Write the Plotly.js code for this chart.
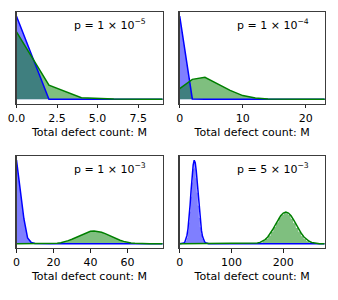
<!DOCTYPE html>
<html>
<head>
<meta charset="utf-8">
<script src="https://cdn.plot.ly/plotly-3.0.1.min.js"></script>
<style>html,body{margin:0;padding:0;background:#fff;}#chart{width:338px;height:300px;}</style>
</head>
<body>
<div id="chart"></div>
<script>
// ---------- data (normalised probability of total defect count M) ----------
const pLabels = ["p = 1 × 10<sup>−5</sup>", "p = 1 × 10<sup>−4</sup>", "p = 1 × 10<sup>−3</sup>", "p = 5 × 10<sup>−3</sup>"];
const xMax = [9, 23, 79, 280];
const xDtick = [2.5, 10, 20, 100];

// p = 1e-5
const M1 = [0, 2, 4, 6, 8, 10];
const blue1 = [1.0, 0.0, 0.0, 0.0, 0.0, 0.0];
const green1 = [0.81, 0.17, 0.02, 0.004, 0.001, 0.0];

// p = 1e-4
const M2 = [0, 2, 4, 6, 8, 10, 12, 14, 16, 18, 20, 22, 24];
const blue2 = [1.0, 0.005, 0, 0, 0, 0, 0, 0, 0, 0, 0, 0, 0];
const green2 = [0.128, 0.24, 0.265, 0.19, 0.108, 0.045, 0.016, 0.005, 0.0015, 0.0004, 0.0001, 0, 0];

// p = 1e-3
const M3 = [0,2,4,6,8,10,12,14,16,18,20,22,24,26,28,30,32,34,36,38,40,42,44,46,48,50,52,54,56,58,60,62,64,66,68,70,72,74,76,78,80];
const blue3 = [1.0,0.63,0.30,0.07,0.015,0.004,0.001,0,0,0,0,0,0,0,0,0,0,0,0,0,0,0,0,0,0,0,0,0,0,0,0,0,0,0,0,0,0,0,0,0,0];
const green3 = [0,0,0,0,0,0,0,0,0.001,0.002,0.004,0.008,0.014,0.024,0.038,0.055,0.075,0.097,0.118,0.137,0.150,0.154,0.150,0.139,0.122,0.101,0.080,0.060,0.043,0.029,0.018,0.011,0.006,0.003,0.0015,0.0007,0.0003,0.0001,0,0,0];

// p = 5e-3 : smooth curves
const M4b = [0,2,4,6,8,10,12,14,16,18,20,22,24,26,28,30,32,34,36,38,40,42,44,46,48,50,52,54,56,58,60,80,100,120,140,160,180,200,220,240,260,280];
const blue4 = [0,0,0.001,0.003,0.009,0.022,0.05,0.10,0.18,0.30,0.46,0.64,0.81,0.94,1.0,0.97,0.87,0.72,0.55,0.39,0.26,0.16,0.09,0.05,0.025,0.012,0.005,0.002,0.001,0,0,0,0,0,0,0,0,0,0,0,0,0];
const M4g = [0,20,40,60,80,100,120,130,135,140,145,150,155,160,165,170,175,180,185,190,195,200,205,210,215,220,225,230,235,240,245,250,255,260,265,270,275,280];
const green4 = [0,0,0,0,0,0,0,0.0003,0.0008,0.002,0.004,0.009,0.017,0.030,0.051,0.082,0.123,0.174,0.231,0.287,0.335,0.368,0.38,0.368,0.335,0.287,0.231,0.174,0.123,0.082,0.051,0.030,0.017,0.009,0.004,0.002,0.0008,0.0003];
// p = 5e-3 : sampled histograms (bin left edges)
const H4b = [6,8,10,12,14,16,18,20,22,24,26,28,30,32,34,36,38,40,42,44,46,48,50,52,54,56];
const histBlue4 = [0.004,0.015,0.033,0.072,0.148,0.255,0.385,0.565,0.735,0.895,0.985,0.975,0.905,0.785,0.615,0.46,0.315,0.2,0.118,0.066,0.033,0.016,0.007,0.003,0.001,0];
const H4g = [140,145,150,155,160,165,170,175,180,185,190,195,200,205,210,215,220,225,230,235,240,245,250,255,260,265,270,275];
const histGreen4 = [0.003,0.006,0.013,0.021,0.041,0.064,0.102,0.148,0.207,0.259,0.318,0.352,0.381,0.372,0.35,0.305,0.252,0.195,0.146,0.097,0.062,0.036,0.02,0.01,0.005,0.002,0.001,0];

// ---------- build ----------
const BLUE = '#0000ff', GREEN = '#008000';
const BFILL = 'rgba(0,0,255,0.5)', GFILL = 'rgba(0,128,0,0.5)';
const panels = [
  {x: M1, b: blue1, xg: M1, g: green1},
  {x: M2, b: blue2, xg: M2, g: green2},
  {x: M3, b: blue3, xg: M3, g: green3},
  {x: M4b, b: blue4, xg: M4g, g: green4, hb: [H4b, histBlue4], hg: [H4g, histGreen4]}
];
const traces = [];
panels.forEach((p, i) => {
  const xa = i === 0 ? 'x' : 'x' + (i + 1);
  const ya = i === 0 ? 'y' : 'y' + (i + 1);
  if (p.hb) {
    traces.push({x: p.hb[0], y: p.hb[1], xaxis: xa, yaxis: ya, mode: 'lines', line: {color: 'white', width: 0.9, shape: 'hv'}, fill: 'tozeroy', fillcolor: BFILL, hoverinfo: 'skip'});
    traces.push({x: p.hg[0], y: p.hg[1], xaxis: xa, yaxis: ya, mode: 'lines', line: {color: 'white', width: 0.9, shape: 'hv'}, fill: 'tozeroy', fillcolor: GFILL, hoverinfo: 'skip'});
  } else {
    traces.push({x: p.x, y: p.b, xaxis: xa, yaxis: ya, mode: 'lines', line: {width: 0}, fill: 'tozeroy', fillcolor: BFILL, hoverinfo: 'skip'});
    traces.push({x: p.xg, y: p.g, xaxis: xa, yaxis: ya, mode: 'lines', line: {width: 0}, fill: 'tozeroy', fillcolor: GFILL, hoverinfo: 'skip'});
  }
  traces.push({x: p.x, y: p.b, xaxis: xa, yaxis: ya, mode: 'lines', line: {color: BLUE, width: 1.5}});
  traces.push({x: p.xg, y: p.g, xaxis: xa, yaxis: ya, mode: 'lines', line: {color: GREEN, width: 1.5}});
});

const W = 338, H = 300;
const colX = [[16.5, 162.5], [179.7, 324.7]];
const rowY = [[12, 103.5], [156, 248]];
const font = {family: 'DejaVu Sans', size: 11, color: '#000'};
const layout = {
  width: W, height: H, margin: {l: 0, r: 0, t: 0, b: 0},
  paper_bgcolor: '#fff', plot_bgcolor: '#fff', showlegend: false, font: font,
  annotations: []
};
for (let i = 0; i < 4; i++) {
  const c = colX[i % 2], r = rowY[Math.floor(i / 2)];
  const k = i === 0 ? '' : String(i + 1);
  layout['xaxis' + k] = {
    domain: [c[0] / W, c[1] / W], anchor: 'y' + k, range: [0, xMax[i]],
    dtick: xDtick[i], tick0: 0, tickformat: i === 0 ? '.1f' : 'd',
    ticks: 'outside', ticklen: 3.5, tickwidth: 1, tickcolor: '#222',
    showline: true, linecolor: '#3c3c3c', linewidth: 1.3, mirror: true,
    showgrid: false, zeroline: false, tickfont: font, automargin: false,
    title: {text: 'Total defect count: M', font: font, standoff: 4}
  };
  layout['yaxis' + k] = {
    domain: [(H - r[1]) / H, (H - r[0]) / H], anchor: 'x' + k, range: [-0.05, 1.05],
    showticklabels: false, ticks: '', showline: true, linecolor: '#3c3c3c', linewidth: 1.3, mirror: true,
    showgrid: false, zeroline: false, automargin: false
  };
  layout.annotations.push({
    text: pLabels[i], xref: 'x' + k + ' domain', yref: 'y' + k + ' domain',
    x: 0.64, y: 0.86, xanchor: 'center', yanchor: 'middle', showarrow: false, font: font
  });
}
Plotly.newPlot('chart', traces, layout, {staticPlot: true});
</script>
</body>
</html>
